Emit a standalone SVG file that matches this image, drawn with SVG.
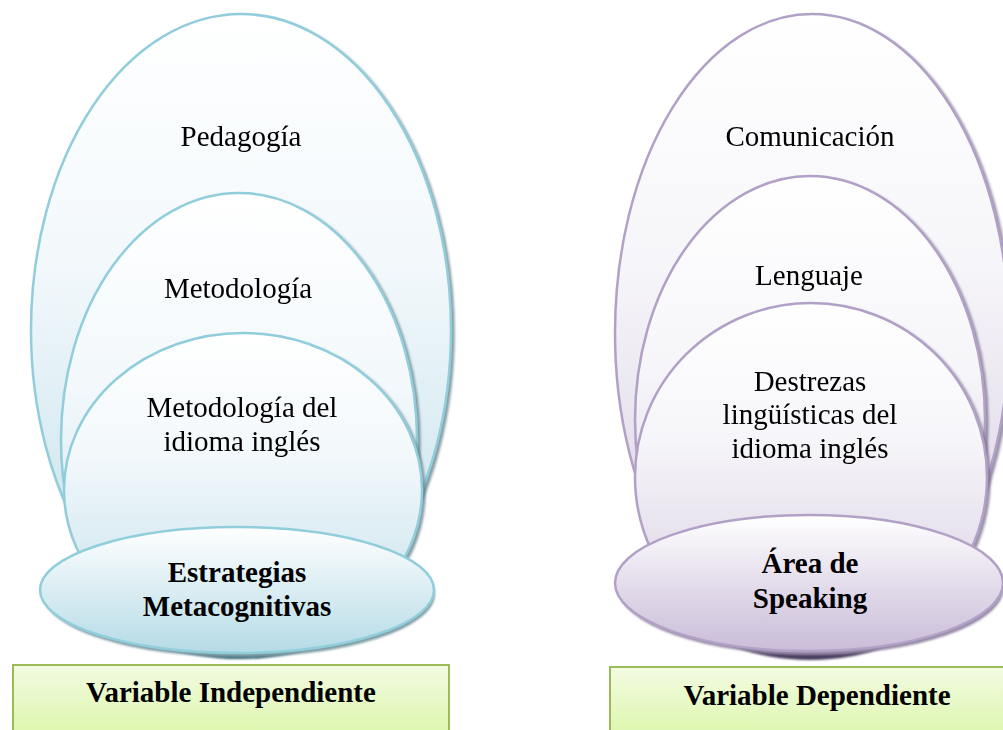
<svg xmlns="http://www.w3.org/2000/svg" width="1003" height="730" viewBox="0 0 1003 730">
<defs>
<linearGradient id="gBlue" x1="0" y1="0" x2="0" y2="1">
<stop offset="0" stop-color="#ffffff"/>
<stop offset="0.4" stop-color="#f2f8fb"/>
<stop offset="1" stop-color="#bfdfe9"/>
</linearGradient>
<linearGradient id="gBlueB" x1="0" y1="0" x2="0" y2="1">
<stop offset="0" stop-color="#ffffff"/>
<stop offset="1" stop-color="#b5dbe6"/>
</linearGradient>
<linearGradient id="gPurp" x1="0" y1="0" x2="0" y2="1">
<stop offset="0" stop-color="#ffffff"/>
<stop offset="0.4" stop-color="#f6f5f9"/>
<stop offset="1" stop-color="#d5cbe0"/>
</linearGradient>
<linearGradient id="gPurpB" x1="0" y1="0" x2="0" y2="1">
<stop offset="0" stop-color="#ffffff"/>
<stop offset="1" stop-color="#c9bcd8"/>
</linearGradient>
<linearGradient id="gGreen" x1="0" y1="0" x2="0" y2="1">
<stop offset="0" stop-color="#f3fbe2"/>
<stop offset="1" stop-color="#dcf6ac"/>
</linearGradient>
<clipPath id="top"><rect x="0" y="0" width="1003" height="592"/></clipPath>
<filter id="shB" x="-10%" y="-10%" width="120%" height="120%">
<feDropShadow dx="2.5" dy="2.5" stdDeviation="1" flood-color="#5f7f88" flood-opacity="0.75"/>
</filter>
<filter id="shP" x="-10%" y="-10%" width="120%" height="120%">
<feDropShadow dx="2.5" dy="2.5" stdDeviation="1" flood-color="#7a6e8c" flood-opacity="0.75"/>
</filter>
<filter id="blur"><feGaussianBlur stdDeviation="1.2"/></filter>
</defs>
<style>
.b{stroke:#92cddc;stroke-width:2.5;fill:url(#gBlue)}
.bb{stroke:#92cddc;stroke-width:2.5;fill:url(#gBlueB)}
.p{stroke:#b2a1c7;stroke-width:2.5;fill:url(#gPurp)}
.pb{stroke:#b2a1c7;stroke-width:2.5;fill:url(#gPurpB)}
.box{stroke:#9bbb59;stroke-width:2;fill:url(#gGreen)}
text{font-family:"Liberation Serif","Times New Roman",serif;font-size:29px;fill:#000;text-anchor:middle}
.bold{font-weight:bold}
</style>

<g clip-path="url(#top)">
<g id="left-outer" filter="url(#shB)">
<ellipse class="b" cx="241" cy="330" rx="210" ry="316"/>
<text x="241" y="146">Pedagogía</text>
</g>
<g id="left-middle" filter="url(#shB)">
<ellipse class="b" cx="239" cy="440" rx="178" ry="247"/>
<text x="238" y="298">Metodología</text>
</g>
<g id="left-inner" filter="url(#shB)">
<ellipse class="b" cx="243" cy="490" rx="179" ry="157"/>
<text x="242" y="417">Metodología del</text>
<text x="242" y="451">idioma inglés</text>
</g>
</g>
<g id="left-base">
<ellipse cx="240" cy="614" rx="110" ry="45" fill="#2f6272" filter="url(#blur)"/>
<ellipse cx="239" cy="594" rx="196" ry="63" fill="#7f9ea6" filter="url(#blur)"/>
<ellipse class="bb" cx="237" cy="590" rx="197" ry="63"/>
<text class="bold" x="237" y="582">Estrategias</text>
<text class="bold" x="237" y="616">Metacognitivas</text>
</g>
<g id="left-label">
<rect class="box" x="13" y="665" width="436" height="70"/>
<text class="bold" x="231" y="702">Variable Independiente</text>
</g>

<g clip-path="url(#top)">
<g id="right-outer" filter="url(#shP)">
<ellipse class="p" cx="812" cy="333" rx="197" ry="319"/>
<text x="810" y="146">Comunicación</text>
</g>
<g id="right-middle" filter="url(#shP)">
<ellipse class="p" cx="810" cy="420" rx="175" ry="244"/>
<text x="809" y="285">Lenguaje</text>
</g>
<g id="right-inner" filter="url(#shP)">
<ellipse class="p" cx="811" cy="477" rx="176" ry="174"/>
<text x="810" y="391">Destrezas</text>
<text x="810" y="424">lingüísticas del</text>
<text x="810" y="458">idioma inglés</text>
</g>
</g>
<g id="right-base">
<ellipse cx="810" cy="614" rx="106" ry="46" fill="#4a3d5e" filter="url(#blur)"/>
<ellipse cx="811" cy="587" rx="193" ry="68" fill="#968aa6" filter="url(#blur)"/>
<ellipse class="pb" cx="809" cy="583" rx="194" ry="68"/>
<text class="bold" x="810" y="573">Área de</text>
<text class="bold" x="810" y="608">Speaking</text>
</g>
<g id="right-label">
<rect class="box" x="610" y="667" width="400" height="70"/>
<text class="bold" x="817" y="705">Variable Dependiente</text>
</g>
<g id="connectors"/>
</svg>
